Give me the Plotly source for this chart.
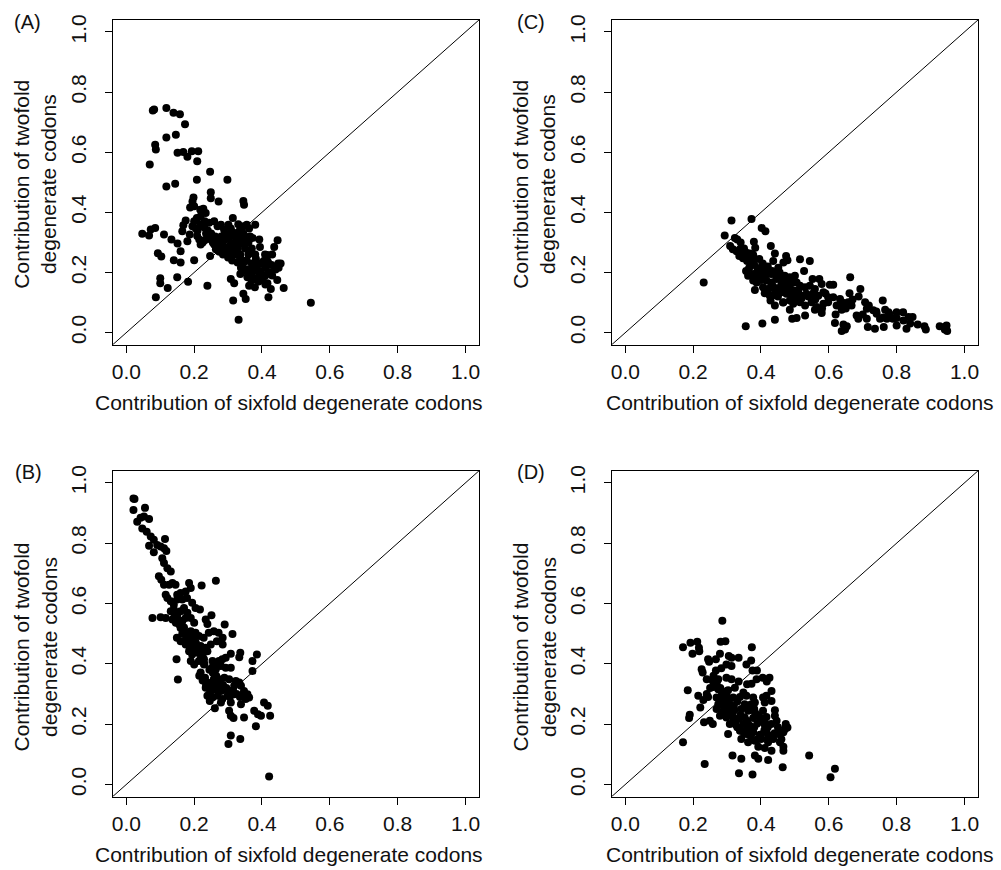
import plotly.graph_objects as go

# ---------------- data ----------------
A_x = [0.082,0.078,0.118,0.139,0.158,0.173,0.118,0.146,0.085,0.087,0.069,0.151,0.168,0.180,0.193,0.212,0.209,0.247,0.208,0.298,
       0.118,0.144,0.249,0.249,0.198,0.272,0.314,0.345,0.347,0.047,0.067,0.072,0.085,0.111,0.133,0.093,0.103,0.140,0.160,0.160,
       0.151,0.165,0.168,0.175,0.180,0.187,0.200,0.150,0.100,0.100,0.122,0.182,0.087,0.239,0.247,0.544,0.331,0.315,0.352,0.345,
       0.419,0.308,0.318,0.464,0.445,0.446,0.448,0.449,0.428,0.430,0.416,0.436,0.411,0.426,0.405,0.416,0.426,0.389,0.382,0.380,
       0.372,0.365,0.392,0.394,0.379,0.357,0.336,0.328,0.336,
       0.195,0.200,0.188,0.218,0.227,0.234,0.219,0.208,0.200,0.195,0.205,0.218,0.231,0.244,0.259,0.269,0.279,0.288,0.301,0.308,
       0.316,0.323,0.333,0.345,0.355,0.362,0.345,0.336,0.323,0.308,0.298,0.286,0.274,0.264,0.259,0.249,0.239,0.231,0.219,0.209,
       0.244,0.257,0.269,0.281,0.291,0.303,0.313,0.328,0.336,0.343,0.352,0.359,0.347,0.338,0.369,0.377,0.369,0.362,0.382,0.392,
       0.397,0.405,0.416,0.409,0.318,0.308,0.298,0.284,
       0.290,0.300,0.310,0.320,0.330,0.280,0.270,0.295,0.305,0.315,0.325,0.285,0.275,0.265,0.335,0.340,0.350,0.355,0.360,0.370,
       0.375,0.385,0.395,0.400,0.410,0.420,0.380,0.390,0.365,0.340,0.330,0.350,0.360,0.370,0.400,0.410,0.420,0.430,0.440,0.455,
       0.250,0.240,0.230,0.220,0.210,0.215,0.225,0.235,0.255,0.262,0.290,0.300,0.312,0.322,0.345,0.365]
A_y = [0.742,0.739,0.747,0.731,0.726,0.693,0.649,0.658,0.625,0.609,0.559,0.598,0.601,0.585,0.603,0.603,0.570,0.535,0.508,0.508,
       0.486,0.495,0.467,0.447,0.449,0.436,0.381,0.438,0.425,0.329,0.323,0.343,0.348,0.326,0.310,0.264,0.253,0.241,0.233,0.271,
       0.296,0.337,0.357,0.373,0.304,0.326,0.241,0.184,0.181,0.164,0.148,0.169,0.118,0.156,0.255,0.099,0.043,0.107,0.112,0.129,
       0.118,0.178,0.164,0.148,0.175,0.307,0.230,0.216,0.225,0.260,0.258,0.285,0.216,0.200,0.186,0.164,0.145,0.230,0.246,0.359,
       0.315,0.266,0.310,0.285,0.151,0.184,0.195,0.233,0.260,
       0.436,0.420,0.416,0.409,0.412,0.398,0.387,0.381,0.370,0.354,0.346,0.359,0.370,0.365,0.370,0.354,0.359,0.343,0.359,0.346,
       0.332,0.321,0.337,0.354,0.359,0.346,0.326,0.315,0.302,0.293,0.282,0.274,0.269,0.277,0.293,0.310,0.321,0.307,0.293,0.321,
       0.326,0.315,0.304,0.293,0.310,0.315,0.271,0.277,0.249,0.227,0.238,0.211,0.205,0.216,0.195,0.205,0.173,0.156,0.179,0.189,
       0.205,0.238,0.238,0.260,0.260,0.249,0.266,0.300,
       0.330,0.325,0.335,0.300,0.290,0.320,0.300,0.280,0.270,0.290,0.270,0.260,0.285,0.300,0.250,0.300,0.280,0.240,0.260,0.230,
       0.220,0.210,0.230,0.180,0.190,0.200,0.260,0.170,0.200,0.350,0.360,0.320,0.300,0.280,0.180,0.160,0.230,0.190,0.210,0.230,
       0.330,0.340,0.350,0.360,0.340,0.310,0.300,0.330,0.300,0.320,0.265,0.250,0.240,0.270,0.330,0.320]

B_x = [0.021,0.024,0.021,0.055,0.032,0.042,0.052,0.067,0.047,0.060,0.072,0.081,0.067,0.081,0.091,0.101,0.111,0.114,0.118,0.106,
       0.111,0.121,0.131,0.096,0.103,0.111,0.126,0.136,0.145,0.264,0.222,0.185,0.190,0.175,0.160,0.150,0.116,0.121,0.131,0.140,
       0.150,0.165,0.179,0.194,0.204,0.217,0.131,0.140,0.150,0.160,0.170,0.180,0.077,0.101,0.116,0.136,0.146,0.156,0.165,0.175,
       0.190,0.200,0.251,0.234,0.239,0.160,0.170,0.180,0.190,0.204,0.214,0.228,0.243,0.258,0.272,0.290,0.313,0.149,0.160,0.175,
       0.185,0.194,0.204,0.219,0.234,0.249,0.267,0.284,0.284,0.148,0.185,0.194,0.210,0.224,0.239,0.190,0.200,0.214,0.229,0.229,
       0.254,0.264,0.273,0.283,0.293,0.308,0.336,0.333,0.385,0.372,0.252,0.264,0.279,0.293,0.308,0.372,0.152,0.219,0.232,0.239,
       0.234,0.246,0.258,0.273,0.289,0.303,0.323,0.333,0.338,0.318,0.308,0.293,0.279,0.264,0.249,0.239,0.254,0.269,0.283,0.298,
       0.318,0.347,0.357,0.352,0.362,0.246,0.261,0.279,0.308,0.338,0.303,0.308,0.316,0.347,0.377,0.388,0.397,0.406,0.417,0.424,
       0.382,0.308,0.336,0.301,0.421,
       0.140,0.150,0.155,0.170,0.180,0.195,0.205,0.215,0.225,0.165,0.175,0.185,0.200,0.210,0.220,0.230,0.245,0.255,0.265,0.275,
       0.285,0.295,0.305,0.315,0.325,0.335,0.345,0.355,0.215,0.225,0.235,0.245,0.255,0.265,0.275,0.285]
B_y = [0.948,0.946,0.910,0.917,0.871,0.884,0.888,0.880,0.849,0.838,0.822,0.811,0.791,0.770,0.794,0.789,0.783,0.814,0.774,0.750,
       0.734,0.717,0.706,0.690,0.679,0.662,0.662,0.668,0.662,0.675,0.660,0.668,0.651,0.640,0.635,0.629,0.629,0.618,0.607,0.596,
       0.613,0.613,0.618,0.602,0.585,0.580,0.574,0.569,0.563,0.574,0.585,0.569,0.552,0.554,0.552,0.547,0.536,0.530,0.541,0.552,
       0.552,0.536,0.561,0.547,0.532,0.519,0.508,0.503,0.508,0.503,0.492,0.486,0.503,0.508,0.503,0.530,0.499,0.486,0.475,0.464,
       0.475,0.486,0.464,0.459,0.453,0.464,0.475,0.464,0.486,0.415,0.442,0.431,0.437,0.433,0.442,0.409,0.398,0.409,0.415,0.398,
       0.409,0.398,0.409,0.415,0.420,0.433,0.437,0.422,0.431,0.409,0.387,0.382,0.393,0.387,0.387,0.376,0.348,0.371,0.354,0.338,
       0.321,0.332,0.349,0.349,0.354,0.349,0.343,0.338,0.327,0.327,0.310,0.316,0.310,0.316,0.310,0.294,0.288,0.294,0.283,0.294,
       0.299,0.310,0.299,0.283,0.288,0.277,0.253,0.272,0.272,0.266,0.244,0.228,0.220,0.222,0.244,0.233,0.228,0.272,0.261,0.228,
       0.193,0.162,0.151,0.134,0.026,
       0.580,0.570,0.545,0.520,0.495,0.480,0.470,0.455,0.430,0.500,0.480,0.460,0.450,0.440,0.420,0.400,0.380,0.370,0.360,0.340,
       0.330,0.320,0.290,0.310,0.300,0.290,0.300,0.295,0.360,0.345,0.330,0.300,0.330,0.340,0.330,0.320]

C_x = [0.231,0.313,0.372,0.293,0.323,0.330,0.402,0.413,0.379,0.429,0.383,0.309,0.317,0.328,0.338,0.347,0.357,0.367,0.377,0.336,
       0.347,0.359,0.369,0.382,0.441,0.474,0.478,0.515,0.544,0.466,0.451,0.436,0.404,0.416,0.397,0.356,0.362,0.377,0.392,0.406,
       0.421,0.433,0.455,0.470,0.485,0.500,0.527,0.552,0.572,0.377,0.387,0.402,0.416,0.431,0.445,0.460,0.475,0.490,0.505,0.382,
       0.406,0.421,0.436,0.454,0.467,0.483,0.497,0.515,0.530,0.544,0.559,0.579,0.603,0.613,0.663,0.411,0.426,0.441,0.460,0.475,
       0.490,0.505,0.520,0.534,0.554,0.569,0.584,0.598,0.613,0.633,0.661,0.693,0.688,0.428,0.441,0.466,0.485,0.495,0.515,0.530,
       0.549,0.564,0.584,0.598,0.623,0.657,0.667,0.707,0.718,0.712,0.485,0.559,0.579,0.638,0.682,0.687,0.731,0.741,0.759,0.766,
       0.776,0.800,0.819,0.835,0.847,0.789,0.771,0.751,0.712,0.800,0.492,0.505,0.530,0.441,0.404,0.355,0.618,0.643,0.653,0.638,
       0.648,0.715,0.736,0.762,0.800,0.829,0.862,0.882,0.886,0.927,0.942,0.947,0.949,0.942,
       0.420,0.430,0.440,0.450,0.460,0.470,0.480,0.490,0.500,0.510,0.445,0.455,0.465,0.475,0.485,0.495,0.505,0.520,0.540,0.560,
       0.350,0.360,0.370,0.380,0.390,0.395,0.405,0.410,0.420,0.430,0.340,0.345,0.365,0.375,0.385,0.400,0.415,0.435,0.450,0.465,
       0.580,0.590,0.620,0.640,0.650,0.670,0.700,0.740,0.760,0.780,0.820,0.840]
C_y = [0.167,0.373,0.378,0.323,0.315,0.310,0.348,0.337,0.302,0.288,0.282,0.288,0.277,0.271,0.277,0.269,0.266,0.263,0.258,0.255,
       0.247,0.238,0.233,0.244,0.263,0.255,0.241,0.244,0.238,0.233,0.216,0.238,0.227,0.216,0.214,0.205,0.189,0.195,0.200,0.195,
       0.197,0.205,0.200,0.189,0.184,0.189,0.205,0.178,0.178,0.173,0.167,0.178,0.173,0.167,0.178,0.173,0.167,0.164,0.167,0.142,
       0.151,0.145,0.153,0.148,0.153,0.145,0.140,0.156,0.151,0.156,0.145,0.162,0.159,0.159,0.184,0.131,0.123,0.129,0.134,0.129,
       0.120,0.129,0.123,0.129,0.131,0.123,0.134,0.118,0.118,0.112,0.131,0.145,0.120,0.107,0.090,0.101,0.107,0.096,0.101,0.090,
       0.101,0.085,0.096,0.101,0.090,0.101,0.090,0.101,0.090,0.079,0.076,0.076,0.065,0.076,0.057,0.046,0.074,0.063,0.107,0.076,
       0.068,0.068,0.068,0.052,0.052,0.046,0.046,0.046,0.046,0.049,0.046,0.049,0.057,0.043,0.030,0.021,0.032,0.027,0.021,0.005,
       0.010,0.019,0.013,0.019,0.024,0.013,0.027,0.021,0.010,0.021,0.019,0.024,0.005,0.010,
       0.140,0.155,0.125,0.140,0.160,0.135,0.150,0.130,0.115,0.140,0.190,0.180,0.165,0.155,0.140,0.175,0.110,0.115,0.120,0.110,
       0.280,0.250,0.240,0.225,0.210,0.245,0.230,0.185,0.220,0.195,0.300,0.270,0.215,0.260,0.190,0.175,0.210,0.150,0.120,0.100,
       0.080,0.130,0.060,0.100,0.080,0.110,0.060,0.070,0.050,0.060,0.040,0.030]

D_x = [0.286,0.170,0.192,0.212,0.198,0.217,0.218,0.281,0.295,0.373,0.371,0.244,0.247,0.279,0.305,0.313,0.334,0.357,0.267,0.225,
       0.228,0.267,0.283,0.298,0.313,0.375,0.388,0.405,0.425,0.387,0.240,0.258,0.274,0.298,0.313,0.334,0.359,0.372,0.417,0.184,
       0.260,0.274,0.287,0.303,0.323,0.348,0.431,0.215,0.244,0.269,0.284,0.298,0.318,0.338,0.357,0.377,0.406,0.416,0.274,0.293,
       0.308,0.330,0.352,0.382,0.411,0.431,0.221,0.269,0.287,0.303,0.322,0.342,0.362,0.382,0.406,0.441,0.190,0.188,0.279,0.298,
       0.318,0.333,0.352,0.377,0.397,0.416,0.441,0.232,0.258,0.249,0.308,0.326,0.348,0.367,0.389,0.411,0.446,0.473,0.478,0.303,
       0.338,0.357,0.377,0.397,0.416,0.431,0.451,0.466,0.471,0.342,0.362,0.382,0.401,0.421,0.436,0.456,0.170,0.392,0.411,0.431,
       0.466,0.466,0.316,0.382,0.392,0.421,0.342,0.542,0.464,0.234,0.335,0.375,0.618,0.605,
       0.290,0.295,0.300,0.305,0.310,0.285,0.280,0.300,0.310,0.320,0.330,0.340,0.350,0.360,0.370,0.380,0.390,0.400,0.410,0.420,
       0.300,0.320,0.340,0.360,0.380,0.400,0.420,0.440,0.350,0.370,0.390,0.410,0.430,0.450,0.460,0.260,0.270,0.250,0.240,0.230]
D_y = [0.543,0.455,0.470,0.473,0.433,0.453,0.442,0.473,0.475,0.455,0.411,0.415,0.407,0.433,0.426,0.420,0.420,0.398,0.415,0.382,
       0.371,0.378,0.385,0.398,0.393,0.378,0.378,0.354,0.354,0.349,0.349,0.343,0.349,0.354,0.349,0.341,0.332,0.334,0.341,0.312,
       0.323,0.316,0.305,0.312,0.321,0.305,0.310,0.294,0.290,0.288,0.283,0.283,0.288,0.290,0.294,0.288,0.288,0.294,0.266,0.261,
       0.266,0.275,0.266,0.272,0.272,0.277,0.255,0.250,0.242,0.244,0.246,0.250,0.244,0.239,0.244,0.246,0.231,0.220,0.228,0.222,
       0.224,0.217,0.222,0.220,0.222,0.224,0.228,0.206,0.200,0.211,0.200,0.198,0.200,0.195,0.202,0.198,0.211,0.200,0.189,0.167,
       0.178,0.167,0.173,0.165,0.173,0.162,0.167,0.173,0.184,0.151,0.140,0.145,0.151,0.140,0.151,0.140,0.140,0.125,0.121,0.112,
       0.112,0.125,0.096,0.096,0.085,0.081,0.085,0.096,0.057,0.068,0.037,0.033,0.052,0.024,
       0.260,0.275,0.250,0.270,0.240,0.300,0.320,0.310,0.230,0.215,0.190,0.180,0.170,0.185,0.160,0.190,0.150,0.165,0.180,0.150,
       0.290,0.260,0.230,0.210,0.250,0.210,0.190,0.170,0.255,0.265,0.230,0.210,0.200,0.190,0.150,0.360,0.340,0.320,0.300,0.280]

PANELS = [("(A)", A_x, A_y), ("(B)", B_x, B_y), ("(C)", C_x, C_y), ("(D)", D_x, D_y)]
DIAG = [-0.04, 1.04]
TICKS = [0.0, 0.2, 0.4, 0.6, 0.8, 1.0]
TICK_TEXT = ["0.0", "0.2", "0.4", "0.6", "0.8", "1.0"]
X_TITLE = "Contribution of sixfold degenerate codons"
Y_TITLE = "Contribution of twofold<br>degenerate codons"

# ---------------- layout geometry (pixels) ----------------
W, H = 1001, 870
FONT = "Liberation Sans, Arial, Helvetica, sans-serif"
FS = 21
TXT = "#111111"
# panel boxes: left, right, top, bottom (px)
boxes = {
    "(A)": (112, 479, 14, 341),
    "(C)": (612, 979, 14, 341),
    "(B)": (112, 479, 468, 796),
    "(D)": (612, 979, 468, 796),
}
lab_pos = {"(A)": (27, 16), "(C)": (531, 16), "(B)": (28, 469), "(D)": (531, 469)}
xt_cx = {"(A)": 289, "(C)": 801, "(B)": 289, "(D)": 801}
yt_cy = {"(A)": 179, "(C)": 179, "(B)": 645, "(D)": 645}

fig = go.Figure()
annotations = []
layout_axes = {}
for i, (lab, xs, ys) in enumerate(PANELS, start=1):
    l, r, t, b = boxes[lab]
    xa = "x" if i == 1 else f"x{i}"
    ya = "y" if i == 1 else f"y{i}"
    fig.add_trace(go.Scatter(x=DIAG, y=DIAG, mode="lines", xaxis=xa, yaxis=ya,
                             line=dict(color="black", width=1), hoverinfo="skip", showlegend=False))
    fig.add_trace(go.Scatter(x=xs, y=ys, mode="markers", xaxis=xa, yaxis=ya,
                             marker=dict(color="black", size=8, line=dict(width=0)), showlegend=False))
    common = dict(range=DIAG, showgrid=False, zeroline=False, showline=True, mirror=True,
                  linecolor="black", linewidth=1, ticks="outside", ticklen=7, tickwidth=1,
                  tickcolor="black", tickvals=TICKS, ticktext=TICK_TEXT,
                  tickfont=dict(family=FONT, size=FS, color=TXT), fixedrange=True)
    layout_axes["xaxis" if i == 1 else f"xaxis{i}"] = dict(
        common, domain=[l / W, r / W], anchor=ya, ticklabelstandoff=1)
    layout_axes["yaxis" if i == 1 else f"yaxis{i}"] = dict(
        common, domain=[1 - b / H, 1 - t / H], anchor=xa, tickangle=-90, ticklabelstandoff=10)
    lx, ly = lab_pos[lab]
    annotations.append(dict(text=lab, x=lx / W, y=1 - ly / H, xref="paper", yref="paper",
                            showarrow=False, xanchor="center", yanchor="middle",
                            font=dict(family=FONT, size=FS - 1, color=TXT)))
    annotations.append(dict(text=X_TITLE, x=xt_cx[lab] / W, y=1 - (b + 58) / H, xref="paper", yref="paper",
                            showarrow=False, xanchor="center", yanchor="middle",
                            font=dict(family=FONT, size=FS, color=TXT)))
    annotations.append(dict(text=Y_TITLE, x=(l - 78) / W, y=1 - yt_cy[lab] / H, xref="paper", yref="paper",
                            showarrow=False, xanchor="center", yanchor="middle", textangle=-90,
                            font=dict(family=FONT, size=FS, color=TXT)))

fig.update_layout(width=W, height=H, margin=dict(l=0, r=0, t=0, b=0),
                  paper_bgcolor="white", plot_bgcolor="white",
                  annotations=annotations, **layout_axes)
fig.write_html("out.html", config={"displayModeBar": False},
               post_script="document.body.style.margin='0';document.body.style.overflow='hidden';")
